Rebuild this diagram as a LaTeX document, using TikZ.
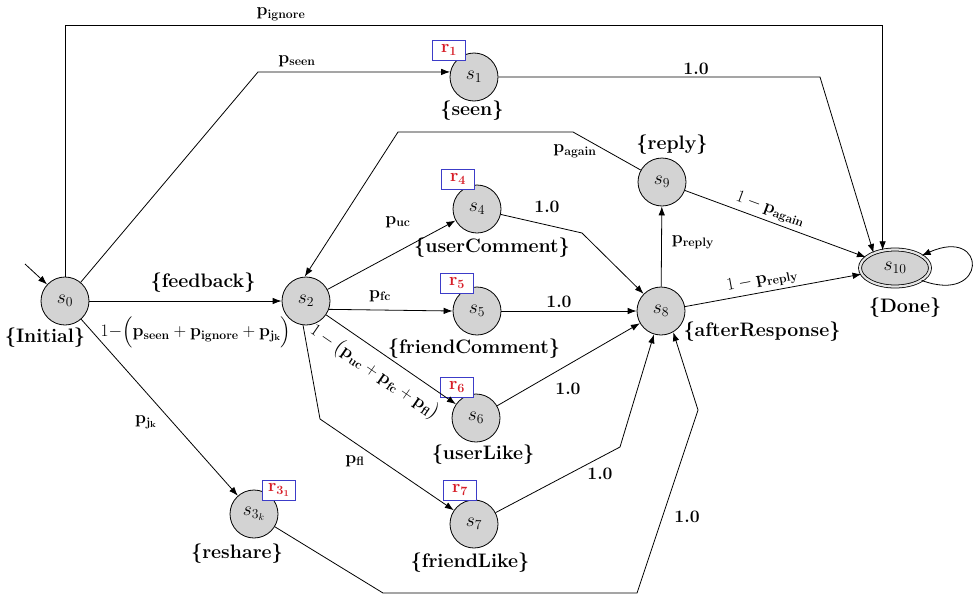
\RequirePackage{fix-cm}
\documentclass[tikz,border=0pt]{standalone}
\usepackage{amsmath}
\usetikzlibrary{arrows.meta,shapes.geometric}
\definecolor{stategray}{RGB}{211,211,211}
\definecolor{rred}{RGB}{215,30,40}
\definecolor{rblue}{RGB}{60,60,200}
\tikzset{
  state/.style={circle, draw, fill=stategray, minimum size=48pt, inner sep=0pt, line width=0.8pt, font=\fontsize{19.5}{22}\selectfont},
  lab/.style={font=\fontsize{19.5}{22}\selectfont\bfseries, inner sep=1pt},
  elab/.style={font=\fontsize{17.5}{20}\selectfont\bfseries, inner sep=1pt},
  rbox/.style={draw=rblue, fill=white, line width=0.8pt, minimum width=33pt, minimum height=20pt, inner sep=0pt, text=rred, font=\fontsize{18}{20}\selectfont},
  edge/.style={-{Latex[length=9pt,width=6.5pt]}, line width=0.8pt}
}
\begin{document}
\begin{tikzpicture}[x=1pt,y=-1pt]
\useasboundingbox (0,0) rectangle (973,597);
% states
\node[state] (s0) at (65,301) {$s_0$};
\node[state] (s1) at (474,77) {$s_1$};
\node[state] (s2) at (306,301) {$s_2$};
\node[state] (s3) at (254,514) {$s_{3_k}$};
\node[state] (s4) at (477,209) {$s_4$};
\node[state] (s5) at (477,311) {$s_5$};
\node[state] (s6) at (476,418) {$s_6$};
\node[state] (s7) at (474,524) {$s_7$};
\node[state] (s8) at (661,311) {$s_8$};
\node[state] (s9) at (662,182) {$s_9$};
\node[state, ellipse, minimum width=70pt, minimum height=37pt, double, double distance=2.2pt, double=stategray!60] (s10) at (895,268) {$s_{10}$};
% reward boxes
\node[rbox] (r1) at (449,50) {$\mathbf{r}_{\mathbf{1}}$};
\node[rbox] (r4) at (458,179) {$\mathbf{r}_{\mathbf{4}}$};
\node[rbox] (r5) at (457,283) {$\mathbf{r}_{\mathbf{5}}$};
\node[rbox] (r6) at (457,387) {$\mathbf{r}_{\mathbf{6}}$};
\node[rbox] (r7) at (460,490) {$\mathbf{r}_{\mathbf{7}}$};
\node[rbox] (r3) at (279,490) {$\mathbf{r}_{\mathbf{3_1}}$};
% state labels
\node[lab] (l0) at (45,338) {\{Initial\}};
\node[lab] (l1) at (472,111) {\{seen\}};
\node[lab] (lfb) at (203,283) {\{feedback\}};
\node[lab] (l3) at (237,554) {\{reshare\}};
\node[lab] (l4) at (492,248) {\{userComment\}};
\node[lab] (l5) at (474,349) {\{friendComment\}};
\node[lab] (l6) at (483,455) {\{userLike\}};
\node[lab] (l7) at (470,563) {\{friendLike\}};
\node[lab] (l8) at (762,332) {\{afterResponse\}};
\node[lab] (l9) at (672,145) {\{reply\}};
\node[lab] (l10) at (905,308) {\{Done\}};
% edge labels
\node[elab] (eign) at (281,14) {$\mathbf{p}_{\mathbf{ignore}}$};
\node[elab] (eseen) at (297,61) {$\mathbf{p}_{\mathbf{seen}}$};
\node[elab] (e110) at (696,69) {1.0};
\node[elab] (erest) at (196,332) {$1{-}\Big(\mathbf{p}_{\mathbf{seen}}+\mathbf{p}_{\mathbf{ignore}}+\mathbf{p}_{\mathbf{j_k}}\Big)$};
\node[elab] (ejk) at (146,422) {$\mathbf{p}_{\mathbf{j_k}}$};
\node[elab] (euc) at (398,222) {$\mathbf{p}_{\mathbf{uc}}$};
\node[elab] (efc) at (380,296) {$\mathbf{p}_{\mathbf{fc}}$};
\node[elab] (efl) at (355,461) {$\mathbf{p}_{\mathbf{fl}}$};
\node[elab] (e48) at (547,207) {1.0};
\node[elab] (e58) at (559,302) {1.0};
\node[elab] (e68) at (568,389) {1.0};
\node[elab] (e78) at (600,474) {1.0};
\node[elab] (e38) at (687,517) {1.0};
\node[elab] (eag) at (575,151) {$\mathbf{p}_{\mathbf{again}}$};
\node[elab] (erep) at (693,242) {$\mathbf{p}_{\mathbf{reply}}$};
% helper coordinates
\coordinate (init) at (25,264);
\coordinate (ig) at (65,25);
\coordinate (ps) at (258,72);
\coordinate (c1) at (820,77);
\coordinate (c27) at (320,419);
\coordinate (c48) at (582,233);
\coordinate (c78) at (620,447);
\coordinate (c3a) at (383,593);
\coordinate (c3b) at (637,593);
\coordinate (c3c) at (698,410);
\coordinate (c9a) at (573,132);
\coordinate (c9b) at (398,132);
% edges
\draw[edge] (init) -- (s0);
\draw[edge] (s0.north) -- (ig) -| (s10.125);
\draw[edge] (s0.50) -- (ps) -- (s1.168);
\draw[edge] (s1.east) -- (c1) -- (s10.145);
\draw[edge] (s0) -- (s2);
\draw[edge] (s0) -- (s3);
\draw[edge] (s2) -- (s4);
\draw[edge] (s2.340) -- (s5.west);
\draw[edge] (s2) -- node[elab, sloped, below=8pt, pos=0.46] (e26) {$1-\big(\mathbf{p}_{\mathbf{uc}}+\mathbf{p}_{\mathbf{fc}}+\mathbf{p}_{\mathbf{fl}}\big)$} (s6);
\draw[edge] (s2.263) -- (c27) -- (s7);
\draw[edge] (s4) -- (c48) -- (s8);
\draw[edge] (s5) -- (s8);
\draw[edge] (s6) -- (s8);
\draw[edge] (s7) -- (c78) -- (s8);
\draw[edge] (s3) -- (c3a) -- (c3b) -- (c3c) -- (s8.-60);
\draw[edge] (s8) -- (s9);
\draw[edge] (s8) -- node[elab, sloped, above=2pt, pos=0.45] (e810) {$1-\mathbf{p}_{\mathbf{reply}}$} (s10);
\draw[edge] (s9) -- node[elab, sloped, above=2pt, pos=0.45] (e910) {$1-\mathbf{p}_{\mathbf{again}}$} (s10);
\draw[edge] (s9) -- (c9a) -- (c9b) -- (s2.93);
\draw[edge] (s10.-25) .. controls (988,305) and (988,226) .. (s10.25);
\end{tikzpicture}
\end{document}
